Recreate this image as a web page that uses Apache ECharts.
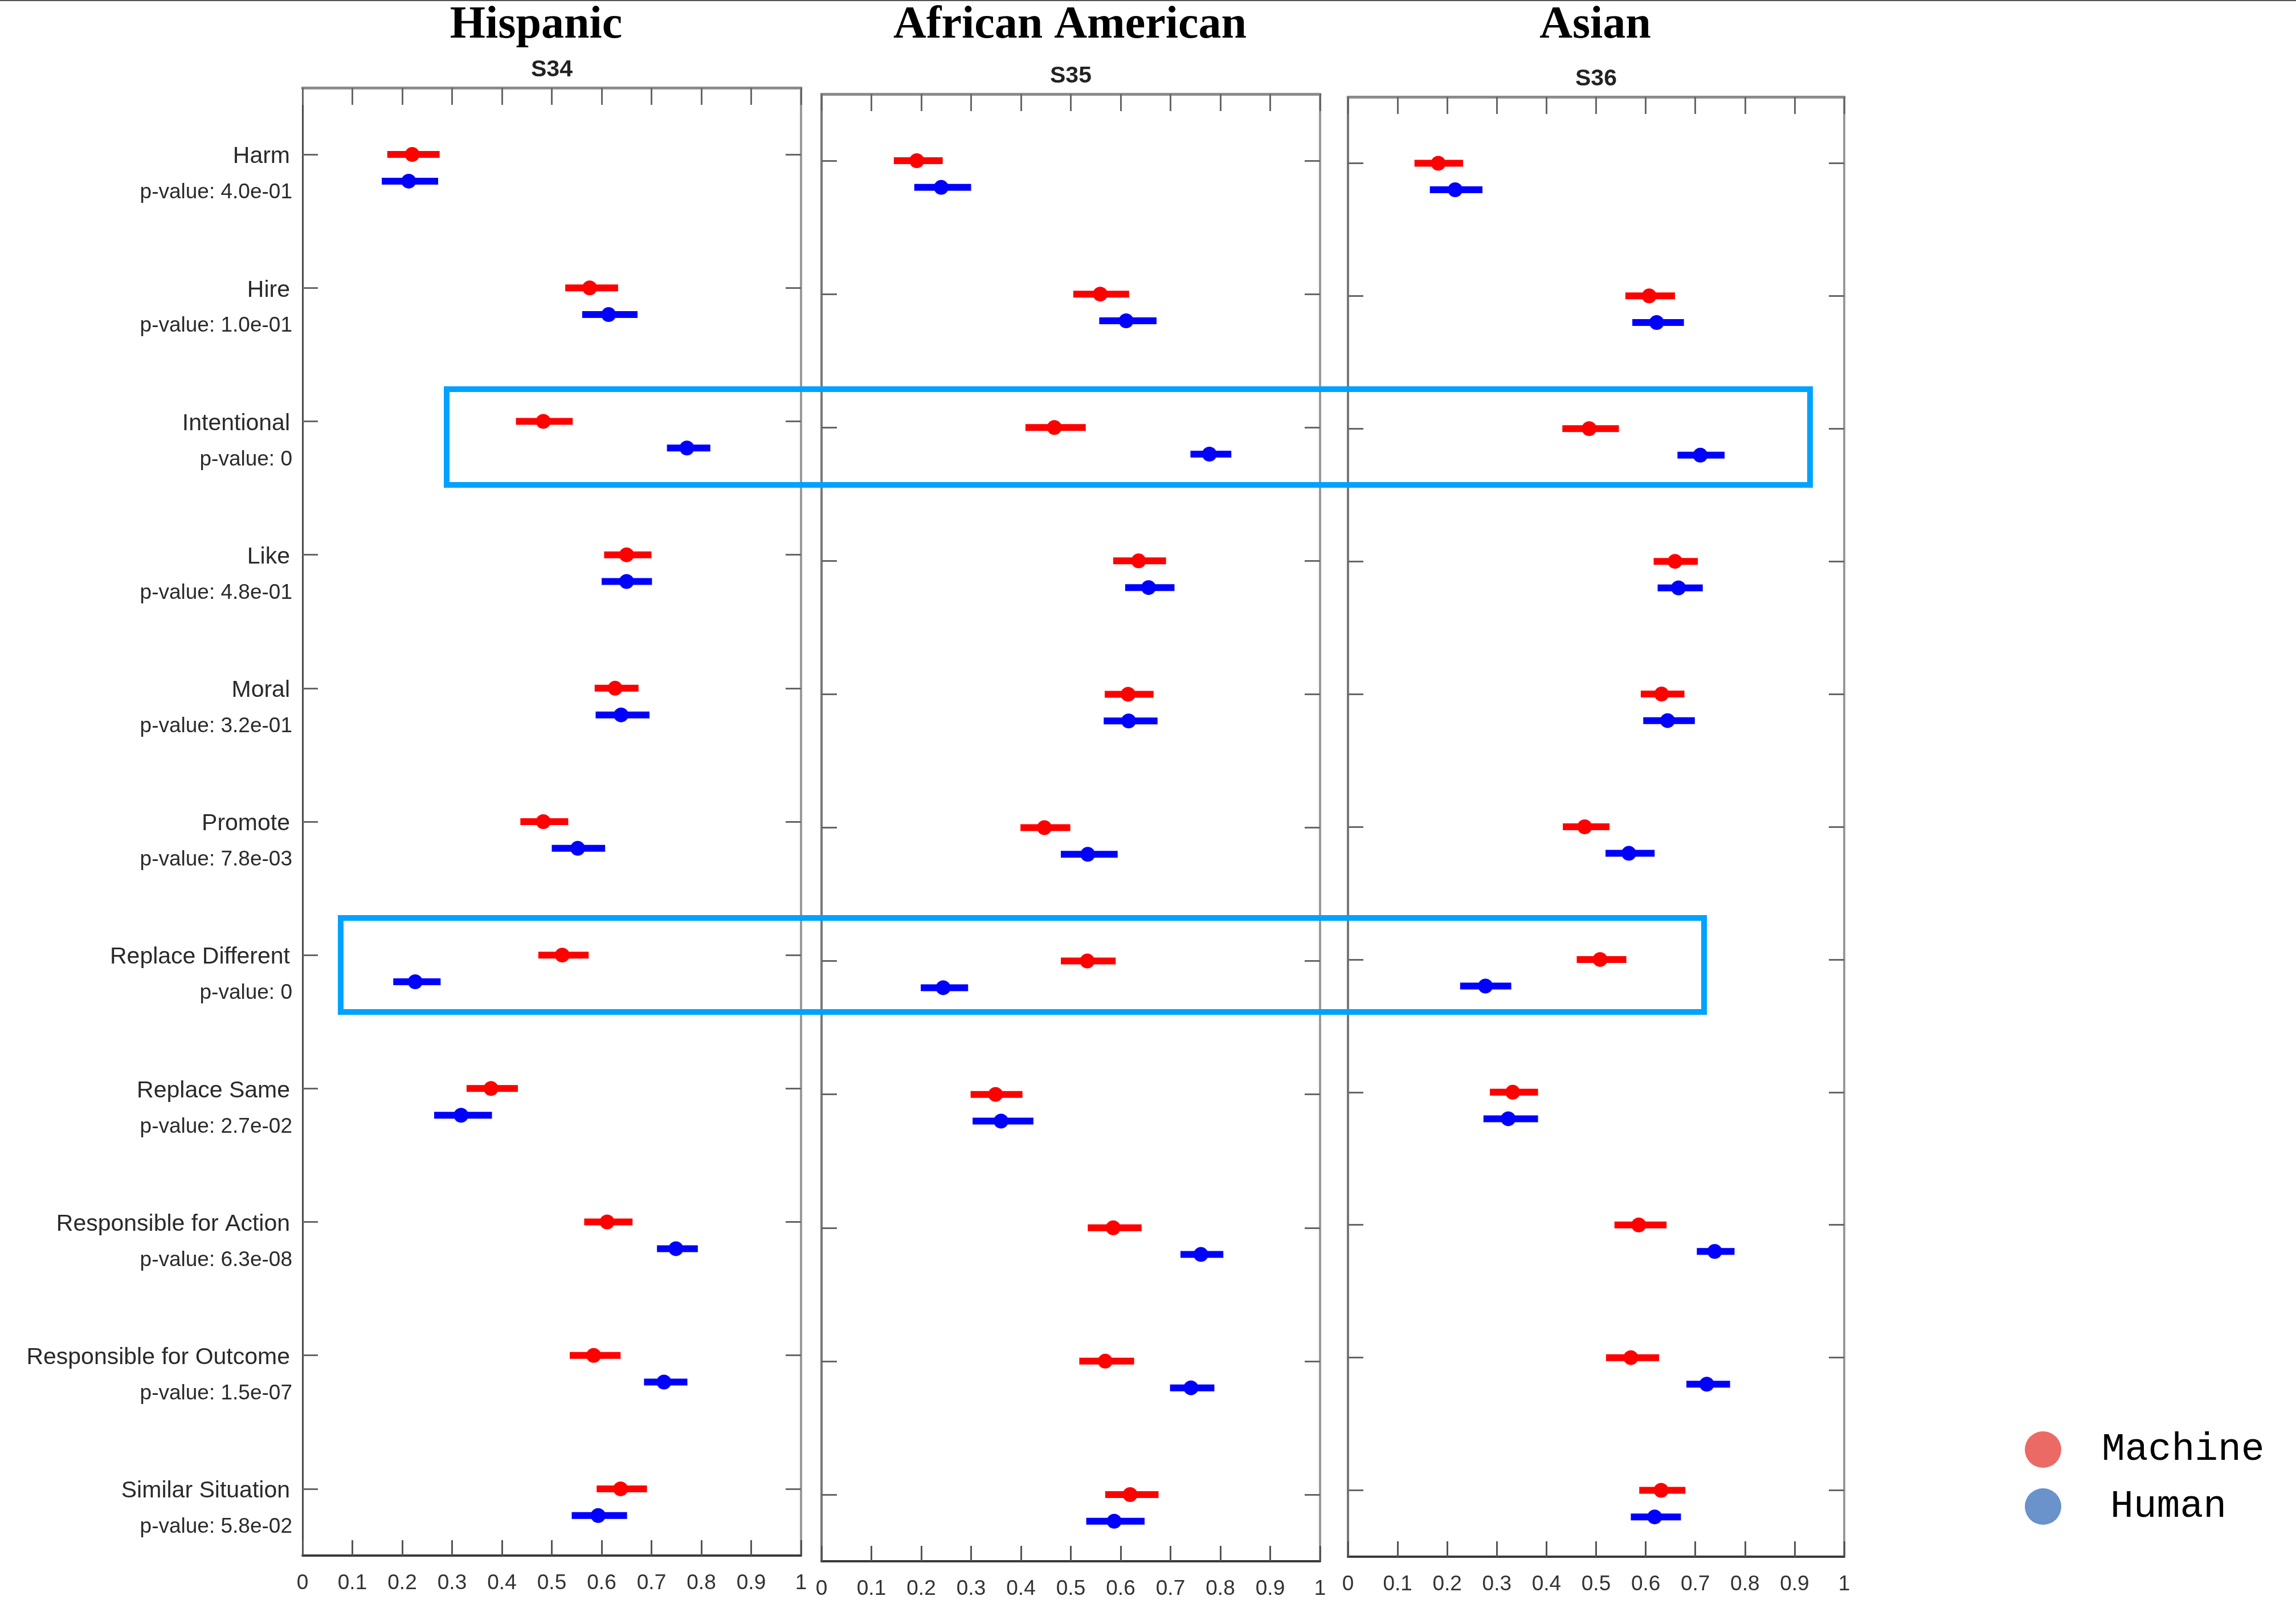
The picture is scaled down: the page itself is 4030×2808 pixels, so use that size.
<!DOCTYPE html>
<html>
<head>
<meta charset="utf-8">
<script src="https://cdn.jsdelivr.net/npm/echarts@6/dist/echarts.min.js"></script>
<style>
  html, body { margin: 0; padding: 0; background: #ffffff; }
  #chart { width: 4030px; height: 2808px; }
</style>
</head>
<body>
<div id="chart"></div>
<script>
// Rows of the forest plot (top to bottom)
const categories = [
  'Harm', 'Hire', 'Intentional', 'Like', 'Moral', 'Promote',
  'Replace Different', 'Replace Same', 'Responsible for Action',
  'Responsible for Outcome', 'Similar Situation'
];
const pValues = [
  '4.0e-01', '1.0e-01', '0', '4.8e-01', '3.2e-01', '7.8e-03',
  '0', '2.7e-02', '6.3e-08', '1.5e-07', '5.8e-02'
];
const tickLabels = ['0', '0.1', '0.2', '0.3', '0.4', '0.5', '0.6', '0.7', '0.8', '0.9', '1'];

const panelTitles = ['Hispanic', 'African American', 'Asian'];
const panelCodes = ['S34', 'S35', 'S36'];

// Hispanic (S34)
const hispMachineMean = [0.220, 0.576, 0.483, 0.650, 0.627, 0.483, 0.521, 0.378, 0.611, 0.584, 0.638];
const hispMachineLo   = [0.170, 0.527, 0.428, 0.605, 0.586, 0.437, 0.473, 0.329, 0.565, 0.536, 0.590];
const hispMachineHi   = [0.275, 0.633, 0.542, 0.700, 0.674, 0.533, 0.574, 0.432, 0.662, 0.638, 0.691];
const hispHumanMean   = [0.213, 0.614, 0.771, 0.650, 0.639, 0.552, 0.226, 0.318, 0.749, 0.725, 0.593];
const hispHumanLo     = [0.159, 0.561, 0.731, 0.600, 0.588, 0.500, 0.182, 0.264, 0.711, 0.685, 0.540];
const hispHumanHi     = [0.272, 0.672, 0.818, 0.701, 0.696, 0.607, 0.277, 0.380, 0.793, 0.772, 0.651];

// African American (S35)
const afamMachineMean = [0.191, 0.559, 0.467, 0.636, 0.615, 0.447, 0.533, 0.349, 0.585, 0.569, 0.619];
const afamMachineLo   = [0.145, 0.505, 0.409, 0.585, 0.568, 0.399, 0.480, 0.299, 0.534, 0.517, 0.569];
const afamMachineHi   = [0.243, 0.617, 0.530, 0.691, 0.666, 0.499, 0.590, 0.403, 0.642, 0.627, 0.676];
const afamHumanMean   = [0.240, 0.611, 0.778, 0.656, 0.616, 0.534, 0.244, 0.360, 0.761, 0.741, 0.587];
const afamHumanLo     = [0.186, 0.557, 0.740, 0.609, 0.566, 0.480, 0.199, 0.303, 0.720, 0.699, 0.531];
const afamHumanHi     = [0.300, 0.672, 0.822, 0.708, 0.674, 0.594, 0.294, 0.425, 0.806, 0.788, 0.648];

// Asian (S36)
const asianMachineMean = [0.182, 0.607, 0.486, 0.659, 0.632, 0.477, 0.508, 0.332, 0.586, 0.570, 0.631];
const asianMachineLo   = [0.134, 0.559, 0.432, 0.616, 0.590, 0.433, 0.461, 0.286, 0.537, 0.520, 0.587];
const asianMachineHi   = [0.232, 0.659, 0.546, 0.705, 0.678, 0.527, 0.561, 0.383, 0.642, 0.627, 0.680];
const asianHumanMean   = [0.216, 0.622, 0.710, 0.666, 0.644, 0.566, 0.277, 0.323, 0.739, 0.723, 0.618];
const asianHumanLo     = [0.165, 0.573, 0.664, 0.624, 0.595, 0.519, 0.226, 0.273, 0.703, 0.682, 0.570];
const asianHumanHi     = [0.271, 0.677, 0.759, 0.715, 0.699, 0.618, 0.329, 0.383, 0.779, 0.770, 0.671];

const panelData = [
  { machine: [hispMachineMean, hispMachineLo, hispMachineHi], human: [hispHumanMean, hispHumanLo, hispHumanHi] },
  { machine: [afamMachineMean, afamMachineLo, afamMachineHi], human: [afamHumanMean, afamHumanLo, afamHumanHi] },
  { machine: [asianMachineMean, asianMachineLo, asianMachineHi], human: [asianHumanMean, asianHumanLo, asianHumanHi] }
];

// Layout of the three plot boxes
const panelBoxes = [
  { left: 531, top: 154, width: 875, height: 2576 },
  { left: 1442, top: 165, width: 875, height: 2575 },
  { left: 2366, top: 170, width: 871, height: 2562 }
];
const titleCenters = [941, 1878, 2800];

const MACHINE_COLOR = '#ff0000';
const HUMAN_COLOR = '#0000ff';
const HUMAN_ROW_SHIFT = 0.2;   // human estimate sits just below its row
const LABEL_FONT = '"Liberation Sans", Arial, sans-serif';

const chart = echarts.init(document.getElementById('chart'), null, { renderer: 'canvas' });

const grids = [], xAxes = [], yAxes = [], series = [], graphics = [];

function errorBarRenderer(color) {
  return function (params, api) {
    const y = api.value(3);
    const lo = api.coord([api.value(0), y]);
    const hi = api.coord([api.value(1), y]);
    const mid = api.coord([api.value(2), y]);
    return {
      type: 'group',
      children: [
        { type: 'rect', shape: { x: lo[0], y: lo[1] - 6, width: hi[0] - lo[0], height: 12 }, style: { fill: color } },
        { type: 'circle', shape: { cx: mid[0], cy: mid[1], r: 13 }, style: { fill: color } }
      ]
    };
  };
}

panelBoxes.forEach((box, p) => {
  grids.push({ left: box.left, top: box.top, width: box.width, height: box.height, containLabel: false });

  // bottom value axis with labels
  xAxes.push({
    gridIndex: p, type: 'value', position: 'bottom', min: 0, max: 1, interval: 0.1,
    axisLine: { show: true, onZero: false, lineStyle: { color: '#3a3a3a', width: 4 } },
    axisTick: { show: true, inside: true, length: 27, lineStyle: { color: '#555', width: 3 } },
    axisLabel: {
      show: true, margin: 30, fontSize: 37, color: '#333', fontFamily: LABEL_FONT,
      formatter: v => tickLabels[Math.round(v * 10)]
    },
    splitLine: { show: false }
  });
  // top frame axis
  xAxes.push({
    gridIndex: p, type: 'value', position: 'top', min: 0, max: 1, interval: 0.1,
    axisLine: { show: true, onZero: false, lineStyle: { color: '#8c8c8c', width: 5 } },
    axisTick: { show: true, inside: true, length: 30, lineStyle: { color: '#666', width: 3 } },
    axisLabel: { show: false },
    splitLine: { show: false }
  });

  // left category axis: row names
  yAxes.push({
    gridIndex: p, type: 'category', position: 'left', data: categories, inverse: true, boundaryGap: true,
    axisLine: { show: true, onZero: false, lineStyle: { color: p === 0 ? '#4a4a4a' : '#777', width: p === 0 ? 3 : 4 } },
    axisTick: { show: true, inside: true, alignWithLabel: true, interval: 0, length: 27, lineStyle: { color: '#666', width: 3 } },
    axisLabel: {
      show: p === 0, interval: 0, margin: 22,
      formatter: v => '{n|' + v + '}',
      rich: { n: { fontSize: 41, color: '#2a2a2a', fontFamily: LABEL_FONT, padding: [8, 0, 0, 0] } }
    },
    splitLine: { show: false }
  });
  // left category axis: p-value line under each row name
  yAxes.push({
    gridIndex: p, type: 'category', position: 'left', data: pValues, inverse: true, boundaryGap: true,
    axisLine: { show: false, onZero: false }, axisTick: { show: false },
    axisLabel: {
      show: p === 0, interval: 0, margin: 18,
      formatter: v => '{p|p-value: ' + v + '}',
      rich: { p: { fontSize: 37, color: '#2a2a2a', fontFamily: LABEL_FONT, padding: [134, 0, 0, 0] } }
    },
    splitLine: { show: false }
  });
  // right frame axis
  yAxes.push({
    gridIndex: p, type: 'category', position: 'right', data: categories, inverse: true, boundaryGap: true,
    axisLine: { show: true, onZero: false, lineStyle: { color: '#999', width: 4 } },
    axisTick: { show: true, inside: true, alignWithLabel: true, interval: 0, length: 27, lineStyle: { color: '#666', width: 3 } },
    axisLabel: { show: false },
    splitLine: { show: false }
  });
  // hidden value axis used to place the estimates
  yAxes.push({
    gridIndex: p, type: 'value', min: -0.5, max: 10.5, inverse: true, show: false,
    axisLine: { onZero: false },
    splitLine: { show: false }
  });

  const d = panelData[p];
  [['Machine', d.machine, 0, MACHINE_COLOR], ['Human', d.human, HUMAN_ROW_SHIFT, HUMAN_COLOR]].forEach(([name, arrs, shift, color]) => {
    const [mean, lo, hi] = arrs;
    series.push({
      type: 'custom', name: name,
      xAxisIndex: p * 2, yAxisIndex: p * 4 + 3,
      clip: false,
      itemStyle: { color: color },
      encode: { x: [0, 1, 2], y: 3 },
      data: categories.map((c, i) => [lo[i], hi[i], mean[i], i + shift]),
      renderItem: errorBarRenderer(color),
      z: 5
    });
  });

  graphics.push({
    type: 'text', x: titleCenters[p], y: 45,
    style: { text: panelTitles[p], font: 'bold 80px "Liberation Serif", "Times New Roman", serif', fill: '#000', textAlign: 'center', textVerticalAlign: 'middle' }
  });
  graphics.push({
    type: 'text', x: box.left + box.width / 2, y: box.top - 31,
    style: { text: panelCodes[p], font: 'bold 41px ' + LABEL_FONT, fill: '#222', textAlign: 'center', textVerticalAlign: 'middle' }
  });
});

// thin rule along the top edge
graphics.push({ type: 'line', shape: { x1: 0, y1: 1, x2: 4030, y2: 1 }, style: { stroke: '#555', lineWidth: 2 } });
// highlight frames around the "Intentional" and "Replace Different" rows
graphics.push({ type: 'rect', z: 100, shape: { x: 784, y: 683, width: 2393, height: 168 }, style: { fill: 'none', stroke: '#00a2ff', lineWidth: 10 } });
graphics.push({ type: 'rect', z: 100, shape: { x: 598, y: 1611, width: 2393, height: 165 }, style: { fill: 'none', stroke: '#00a2ff', lineWidth: 10 } });

const legendFont = '"Liberation Mono", "DejaVu Sans Mono", monospace';

chart.setOption({
  backgroundColor: '#ffffff',
  animation: false,
  grid: grids,
  xAxis: xAxes,
  yAxis: yAxes,
  series: series,
  graphic: graphics,
  legend: {
    orient: 'vertical', left: 3549, top: 2505,
    icon: 'circle', itemWidth: 64, itemHeight: 64, itemGap: 32,
    selectedMode: false,
    data: [
      { name: 'Machine', itemStyle: { color: '#eb6a65' } },
      { name: 'Human', itemStyle: { color: '#6a92cb' } }
    ],
    formatter: name => name === 'Human' ? '{h|Human}' : '{m|Machine}',
    textStyle: {
      fontFamily: legendFont, fontSize: 68, color: '#000',
      rich: {
        m: { fontFamily: legendFont, fontSize: 68, color: '#000', padding: [0, 0, 0, 66] },
        h: { fontFamily: legendFont, fontSize: 68, color: '#000', padding: [0, 0, 0, 81] }
      }
    }
  }
});
</script>
</body>
</html>
